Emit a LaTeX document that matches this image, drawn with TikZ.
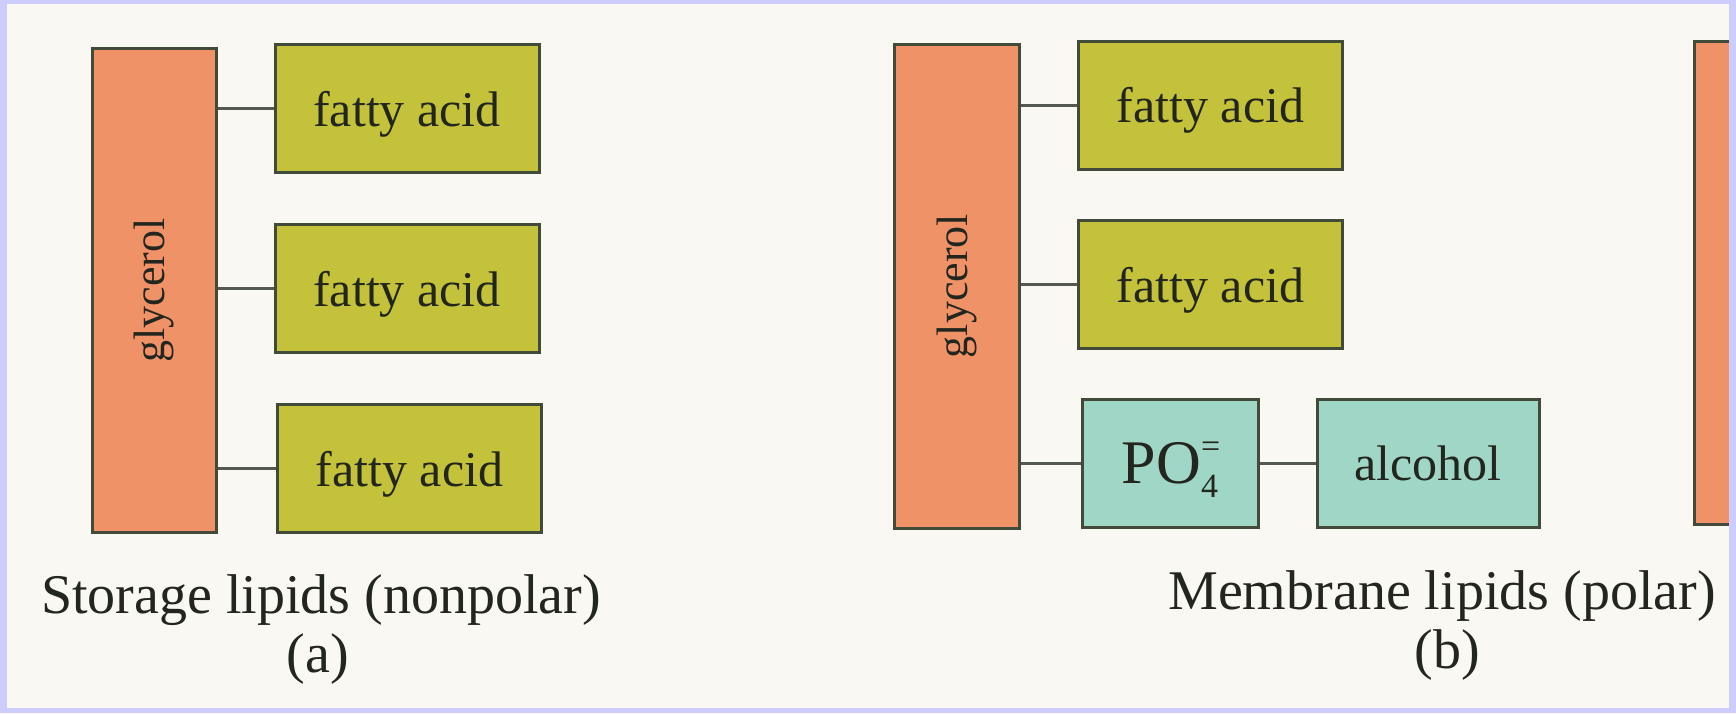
\documentclass[tikz,border=0pt]{standalone}
\usepackage{fontspec}
\setmainfont{Liberation Serif}
\definecolor{lav}{RGB}{204,204,255}
\definecolor{paper}{RGB}{250,248,242}
\definecolor{gly}{RGB}{240,146,104}
\definecolor{fa}{RGB}{196,194,58}
\definecolor{teal}{RGB}{160,214,198}
\definecolor{edge}{RGB}{66,74,58}
\definecolor{ink}{RGB}{35,38,30}
\definecolor{link}{RGB}{85,88,80}
\tikzset{
  box/.style={draw=edge, line width=1.5pt, inner sep=0pt, text=ink},
  glybox/.style={box, fill=gly, minimum width=62pt, minimum height=242pt,
     font=\fontsize{22}{26}\selectfont},
  fabox/.style={box, fill=fa, minimum width=132pt, minimum height=64pt,
     text depth=0pt, font=\fontsize{25}{30}\selectfont},
  polbox/.style={box, fill=teal, minimum height=64pt,
     text depth=0pt, font=\fontsize{25}{30}\selectfont},
  linkline/.style={draw=link, line width=1.5pt},
  caption/.style={text=ink, font=\fontsize{28}{32}\selectfont, inner sep=0pt}
}
\begin{document}
\begin{tikzpicture}[x=0.5pt,y=-0.5pt]
\fill[lav] (0,0) rectangle (1736,713);
\fill[paper] (7,4) rectangle (1729,708);
\useasboundingbox (0,0) rectangle (1736,713);
% (a)
\node[glybox] (ga) at (154,290.5) {\rotatebox{90}{glycerol}};
\node[fabox] (fa1) at (407,108.5) {fatty acid};
\node[fabox] (fa2) at (407,288.5) {fatty acid};
\node[fabox] (fa3) at (409.5,468.5) {fatty acid};
\draw[linkline] (ga.east |- fa1.west) -- (fa1.west);
\draw[linkline] (ga.east |- fa2.west) -- (fa2.west);
\draw[linkline] (ga.east |- fa3.west) -- (fa3.west);
\node[caption] (capa) at (321,600) {Storage lipids (nonpolar)};
\node[caption] (laba) at (318,659) {(a)};
% (b)
\node[glybox, minimum width=62.5pt] (gb) at (956.5,286) {\rotatebox{90}{glycerol}};
\node[fabox] (fb1) at (1210.5,105) {fatty acid};
\node[fabox] (fb2) at (1210.5,284.5) {fatty acid};
\node[polbox, minimum width=88pt, font=\fontsize{31}{36}\selectfont] (po) at (1170,463)
  {PO\makebox[0pt][l]{\raisebox{0.42em}{\fontsize{17}{17}\selectfont =}}\raisebox{-0.22em}{\fontsize{17}{17}\selectfont 4}};
\node[polbox, minimum width=111pt] (alc) at (1428,463) {alcohol};
\draw[linkline] (gb.east |- fb1.west) -- (fb1.west);
\draw[linkline] (gb.east |- fb2.west) -- (fb2.west);
\draw[linkline] (gb.east |- po.west) -- (po.west);
\draw[linkline] (po.east) -- (alc.west);
\node[caption] (capb) at (1442,596) {Membrane lipids (polar)};
\node[caption] (labb) at (1447,655) {(b)};
% partial box at right edge
\fill[gly] (1694,41) rectangle (1729,524);
\draw[edge, line width=1.5pt] (1729,41) -- (1694,41) -- (1694,524) -- (1729,524);
\end{tikzpicture}
\end{document}
